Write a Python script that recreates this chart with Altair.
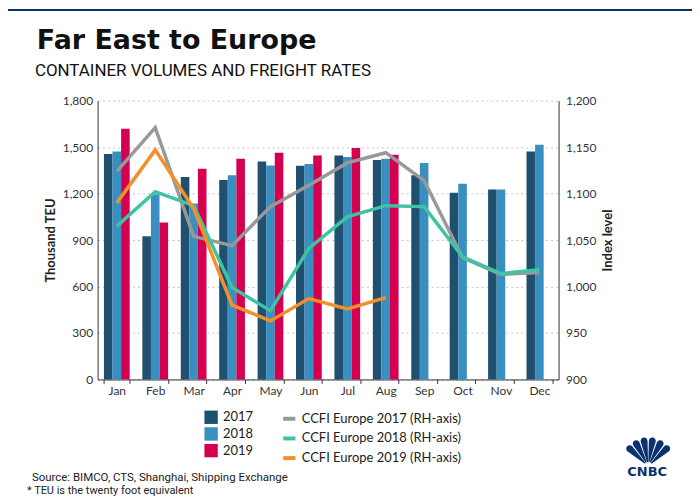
import math
import altair as alt
import pandas as pd

# ---------------- data ----------------
months = ["Jan", "Feb", "Mar", "Apr", "May", "Jun", "Jul", "Aug", "Sep", "Oct", "Nov", "Dec"]
years = ["2017", "2018", "2019"]

teu_2017 = [1455, 924, 1307, 1288, 1408, 1380, 1446, 1417, 1318, 1206, 1226, 1472]
teu_2018 = [1472, 1195, 1136, 1318, 1382, 1391, 1436, 1425, 1397, 1264, 1226, 1515]
teu_2019 = [1618, 1014, 1361, 1425, 1464, 1446, 1494, 1451]

ccfi_names = ["CCFI Europe 2017 (RH-axis)", "CCFI Europe 2018 (RH-axis)", "CCFI Europe 2019 (RH-axis)"]
ccfi_2017 = [1124, 1171, 1054, 1044, 1086, 1109, 1133, 1144, 1114, 1031, 1013, 1015]
ccfi_2018 = [1065, 1102, 1087, 999, 974, 1041, 1075, 1087, 1086, 1032, 1014, 1018]
ccfi_2019 = [1090, 1147, 1084, 980, 963, 987, 976, 988]

left_ticks = [0, 300, 600, 900, 1200, 1500, 1800]
right_ticks = [900, 950, 1000, 1050, 1100, 1150, 1200]

title_text = "Far East to Europe"
subtitle_text = "CONTAINER VOLUMES AND FREIGHT RATES"
source_text = "Source: BIMCO, CTS, Shanghai, Shipping Exchange"
note_text = "* TEU is the twenty foot equivalent"
logo_text = "CNBC"

bar_colors = ["#1f5070", "#3a8fc1", "#d4004f"]
line_colors = ["#999999", "#3ec3a3", "#f39029"]
navy = "#0b3270"

# ---------------- tables ----------------
bar_rows = []
for yr, vals in zip(years, [teu_2017, teu_2018, teu_2019]):
    for m, v in zip(months, vals):
        bar_rows.append({"month": m, "year": yr, "teu": v})
bars_df = pd.DataFrame(bar_rows)

line_rows = []
for name, vals in zip(ccfi_names, [ccfi_2017, ccfi_2018, ccfi_2019]):
    for i, (m, v) in enumerate(zip(months, vals)):
        line_rows.append({"month": m, "mi": i, "series": name, "index": v})
lines_df = pd.DataFrame(line_rows)

FONT = "Lato"

x_enc = alt.X(
    "month:N",
    sort=months,
    scale=alt.Scale(domain=months, paddingInner=0.33, paddingOuter=0.165),
    axis=alt.Axis(
        title=None, labelAngle=0, tickBand="extent", ticks=True, tickSize=4,
        tickColor="#333333", domainColor="#333333", labelPadding=2,
        labelFont=FONT, labelFontSize=12, labelColor="#333333", grid=False,
    ),
)

bars = alt.Chart(bars_df).mark_bar().encode(
    x=x_enc,
    xOffset=alt.XOffset("year:N", scale=alt.Scale(domain=years, paddingInner=0, paddingOuter=0)),
    y=alt.Y(
        "teu:Q",
        scale=alt.Scale(domain=[0, 1800], nice=False),
        axis=alt.Axis(
            title="Thousand TEU", values=left_ticks, format=",.0f", ticks=False,
            labelPadding=5, titlePadding=5, grid=True, gridDash=[2, 3],
            gridColor="#c4c4c4", domainColor="#333333", labelFont=FONT,
            labelFontSize=12, labelColor="#333333", titleFont=FONT,
            titleFontSize=13, titleFontWeight="bold", titleColor="#222222",
        ),
    ),
    color=alt.Color(
        "year:N",
        scale=alt.Scale(domain=years, range=bar_colors),
        legend=alt.Legend(
            title=None, orient="none", legendX=107, legendY=311,
            symbolType="square", symbolSize=180, symbolStrokeWidth=0,
            labelFont=FONT, labelFontSize=13, labelColor="#222222",
            labelOffset=5, rowPadding=2.75, padding=0,
        ),
    ),
)

lines = alt.Chart(lines_df).mark_line(strokeWidth=3.5).encode(
    x=alt.X("month:N", sort=months),
    y=alt.Y(
        "index:Q",
        scale=alt.Scale(domain=[900, 1200], nice=False),
        axis=alt.Axis(
            orient="right", title="Index level", values=right_ticks, format=",.0f",
            ticks=False, labelPadding=7, titlePadding=19, titleAngle=270,
            grid=False, domainColor="#333333", labelFont=FONT, labelFontSize=12,
            labelColor="#333333", titleFont=FONT, titleFontSize=13,
            titleFontWeight="bold", titleColor="#222222",
        ),
    ),
    stroke=alt.Stroke(
        "series:N",
        scale=alt.Scale(domain=ccfi_names, range=line_colors),
        legend=alt.Legend(
            title=None, orient="none", legendX=184, legendY=311,
            symbolType="stroke", symbolSize=150, symbolStrokeWidth=4,
            labelFont=FONT, labelFontSize=13, labelColor="#222222",
            labelOffset=4, rowPadding=2.75, padding=0, labelLimit=300,
        ),
    ),
    order=alt.Order("mi:Q"),
)


def label(text, x, y, font, size, weight="normal", color="#222222", align="left"):
    return alt.Chart(pd.DataFrame({"t": [text]})).mark_text(
        align=align, baseline="alphabetic", font=font, fontSize=size,
        fontWeight=weight, color=color,
    ).encode(text="t:N", x=alt.value(x), y=alt.value(y))


one = pd.DataFrame({"k": [0]})
top_band = alt.Chart(one).mark_rect(color=navy).encode(
    x=alt.value(-90), x2=alt.value(597), y=alt.value(-92), y2=alt.value(-90)
)

title_layer = label(title_text, -61, -52, "DejaVu Sans", 27, "bold", "#111111")
subtitle_layer = label(subtitle_text, -63, -25, "Roboto", 17, "normal", "#111111")
source_layer = label(source_text, -66, 382, "Roboto", 11.5, "normal", "#222222")
note_layer = label(note_text, -71, 395, "Roboto", 11, "normal", "#222222")
logo_word = label(logo_text, 552, 377, "DejaVu Sans", 13, "bold", navy, "center")

# peacock fan of the logo (decoration)
feathers = []
n_f = 6
span = 112.0
gap = 3.0
step = span / n_f
for i in range(n_f):
    a0 = -span / 2 + i * step + gap / 2
    a1 = a0 + step - gap
    t0 = math.radians(a0 % 360 if a0 < 0 else a0)
    t1 = t0 + math.radians(a1 - a0)
    feathers.append(
        alt.Chart(one).mark_arc(
            theta=t0, theta2=t1, outerRadius=29, innerRadius=4,
            cornerRadius=6, color=navy,
        ).encode(x=alt.value(553), y=alt.value(367))
    )

chart = alt.layer(
    bars, lines, top_band, title_layer, subtitle_layer, source_layer,
    note_layer, logo_word, *feathers,
).resolve_scale(y="independent").properties(
    width=463, height=280,
    padding={"left": 90, "top": 92, "right": 134, "bottom": 118},
    autosize=alt.AutoSizeParams(type="none"),
).configure_view(stroke=None)

chart.save("out.html", embed_options={"renderer": "svg", "actions": False})
